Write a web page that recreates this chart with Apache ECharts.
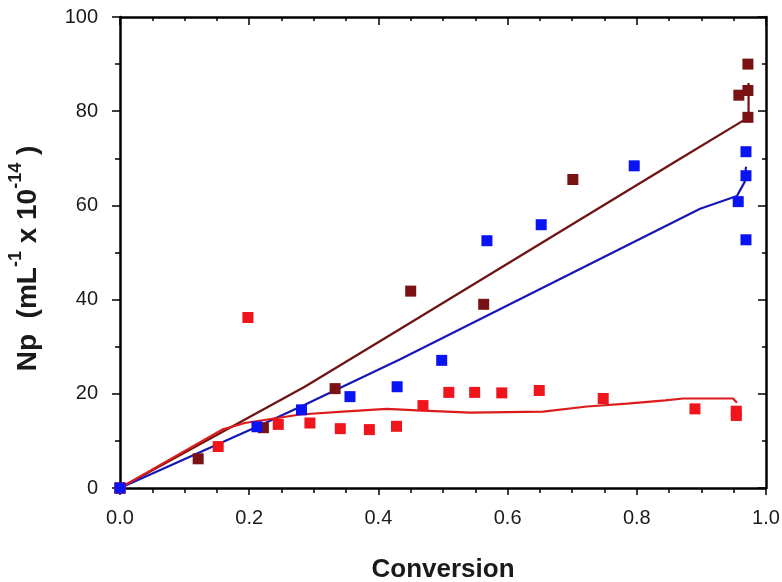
<!DOCTYPE html>
<html>
<head>
<meta charset="utf-8">
<script src="https://cdn.jsdelivr.net/npm/echarts@6/dist/echarts.min.js"></script>
<style>
  html, body { margin: 0; padding: 0; background: #ffffff; }
  #chart { width: 782px; height: 582px; }
</style>
</head>
<body>
<div id="chart"></div>
<script>
// Measured particle number vs. conversion, three runs
const convMaroon = [0, 0.121, 0.222, 0.333, 0.450, 0.563, 0.701, 0.958, 0.972, 0.972, 0.972];
const npMaroon   = [0, 6.2, 12.8, 21.1, 41.8, 39.0, 65.5, 83.4, 90.0, 84.4, 78.7];

const convBlue = [0, 0.212, 0.281, 0.356, 0.429, 0.498, 0.568, 0.652, 0.796, 0.957, 0.969, 0.969, 0.969];
const npBlue   = [0, 13.0, 16.6, 19.4, 21.5, 27.1, 52.5, 55.9, 68.4, 60.8, 71.4, 66.3, 52.7];

const convRed = [0, 0.152, 0.198, 0.245, 0.294, 0.341, 0.386, 0.428, 0.469, 0.509, 0.549, 0.591, 0.649, 0.748, 0.890, 0.954, 0.954];
const npRed   = [0, 8.8, 36.2, 13.5, 13.8, 12.6, 12.4, 13.1, 17.5, 20.3, 20.3, 20.2, 20.7, 19.0, 16.8, 16.3, 15.4];

// Model predictions
const fitConvMaroon = [0, 0.286, 0.433, 0.867, 0.973, 0.973];
const fitNpMaroon   = [0, 21.5, 33.7, 69.9, 78.7, 86.0];

const fitConvBlue = [0, 0.212, 0.286, 0.433, 0.898, 0.955, 0.967, 0.969];
const fitNpBlue   = [0, 13.0, 17.7, 27.3, 59.3, 62.0, 65.0, 68.2];

const fitConvRed = [0, 0.158, 0.193, 0.279, 0.345, 0.413, 0.460, 0.542, 0.655, 0.723, 0.785, 0.844, 0.872, 0.949, 0.955];
const fitNpRed   = [0, 12.4, 13.8, 15.6, 16.2, 16.8, 16.5, 16.0, 16.2, 17.3, 17.9, 18.6, 19.0, 19.0, 18.1];

const xTicks = [0, 0.2, 0.4, 0.6, 0.8, 1.0];
const yTicks = [0, 20, 40, 60, 80, 100];

const pairs = (xs, ys) => xs.map((x, i) => [x, ys[i]]);

const tickFont = { fontFamily: '"Liberation Sans Narrow", "Arial Narrow", "Liberation Sans", Arial, sans-serif', fontSize: 20, color: '#1a1a1a' };
const axisLineStyle = { color: '#000', width: 2.5 };
const titleFont = '"Liberation Sans", Arial, sans-serif';

const chart = echarts.init(document.getElementById('chart'), null, { renderer: 'canvas' });

const baseX = {
  type: 'value', min: xTicks[0], max: xTicks[xTicks.length - 1], interval: 0.2,
  splitLine: { show: false },
  axisLine: { show: true, lineStyle: axisLineStyle, onZero: false },
  minorTick: { show: true, splitNumber: 4, length: 5, lineStyle: { color: '#000', width: 1.5 } }
};
const baseY = {
  type: 'value', min: yTicks[0], max: yTicks[yTicks.length - 1], interval: 20,
  splitLine: { show: false },
  axisLine: { show: true, lineStyle: axisLineStyle, onZero: false },
  minorTick: { show: true, splitNumber: 2, length: 5, lineStyle: { color: '#000', width: 1.5 } }
};

chart.setOption({
  backgroundColor: '#ffffff',
  animation: false,
  grid: { left: 120, right: 16, top: 17, bottom: 94, containLabel: false, outerBoundsMode: 'none' },
  xAxis: [
    Object.assign({}, baseX, {
      position: 'bottom',
      axisTick: { show: true, inside: false, length: 7, lineStyle: { color: '#000', width: 1.5 } },
      axisLabel: Object.assign({ margin: 20, formatter: v => v.toFixed(1) }, tickFont),
      name: 'Conversion', nameLocation: 'middle', nameGap: 69,
      nameTextStyle: { fontFamily: titleFont, fontWeight: 'bold', fontSize: 26, color: '#1a1a1a' }
    }),
    Object.assign({}, baseX, {
      position: 'top',
      axisTick: { show: true, inside: true, length: 8, lineStyle: { color: '#000', width: 1.5 } },
      minorTick: { show: true, splitNumber: 4, length: 4, lineStyle: { color: '#000', width: 1.5 } },
      axisLabel: { show: false }
    })
  ],
  yAxis: [
    Object.assign({}, baseY, {
      position: 'left',
      axisTick: { show: true, inside: false, length: 8, lineStyle: { color: '#000', width: 1.5 } },
      axisLabel: Object.assign({ margin: 22 }, tickFont),
      name: '{m|Np  (mL}{s|-1}{m| x 10}{s|-14}{m| )}', nameLocation: 'middle', nameGap: 78,
      nameTextStyle: {
        padding: [0, 12, 0, 0],
        rich: {
          m: { fontFamily: titleFont, fontWeight: 'bold', fontSize: 28, color: '#1a1a1a', lineHeight: 35, verticalAlign: 'bottom' },
          s: { fontFamily: titleFont, fontWeight: 'bold', fontSize: 18, color: '#1a1a1a', lineHeight: 35, verticalAlign: 'top' }
        }
      }
    }),
    Object.assign({}, baseY, {
      position: 'right',
      axisTick: { show: true, inside: true, length: 8, lineStyle: { color: '#000', width: 1.5 } },
      minorTick: { show: true, splitNumber: 2, length: 4, lineStyle: { color: '#000', width: 1.5 } },
      axisLabel: { show: false }
    })
  ],
  series: [
    { type: 'line', data: pairs(fitConvMaroon, fitNpMaroon), showSymbol: false, symbol: 'none',
      lineStyle: { color: '#6e1212', width: 2.2 }, z: 2 },
    { type: 'line', data: pairs(fitConvBlue, fitNpBlue), showSymbol: false, symbol: 'none',
      lineStyle: { color: '#1616b4', width: 2.2 }, z: 2 },
    { type: 'line', data: pairs(fitConvRed, fitNpRed), showSymbol: false, symbol: 'none',
      lineStyle: { color: '#dc1c1c', width: 2.2 }, z: 2 },
    { type: 'scatter', data: pairs(convRed, npRed), symbol: 'rect', symbolSize: 11,
      itemStyle: { color: '#f0141c', opacity: 1 }, z: 3 },
    { type: 'scatter', data: pairs(convMaroon, npMaroon), symbol: 'rect', symbolSize: 11,
      itemStyle: { color: '#7a1214', opacity: 1 }, z: 4 },
    { type: 'scatter', data: pairs(convBlue, npBlue), symbol: 'rect', symbolSize: 11,
      itemStyle: { color: '#0a14f2', opacity: 1 }, z: 5 }
  ]
});
</script>
</body>
</html>
